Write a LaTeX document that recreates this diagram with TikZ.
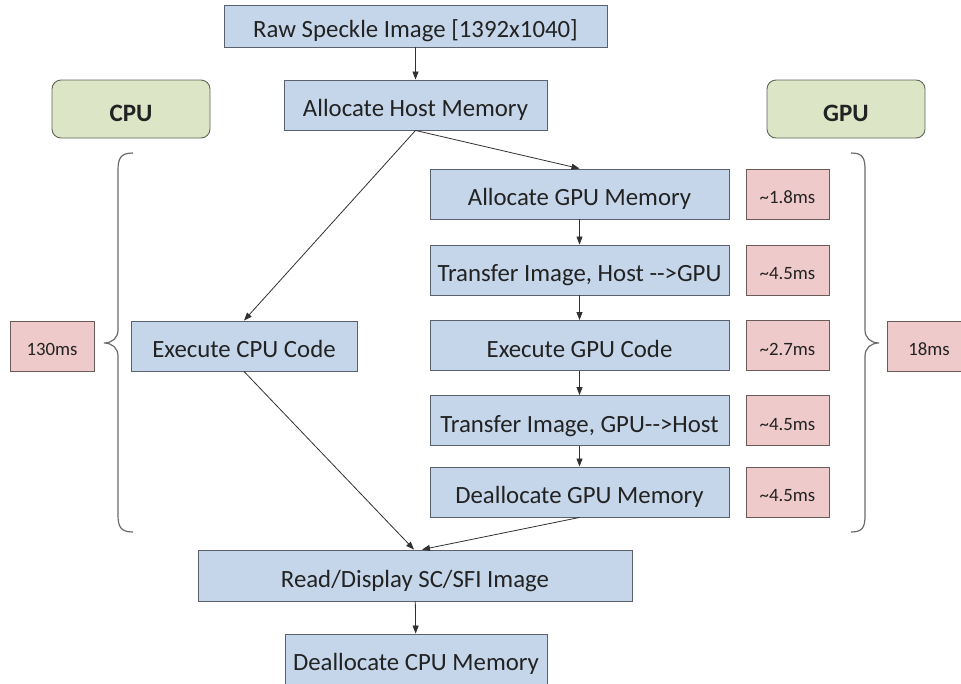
\documentclass[tikz,border=0pt]{standalone}
\usepackage{fontspec}
\setmainfont{Carlito}
\usetikzlibrary{arrows.meta}
\definecolor{procfill}{HTML}{C6D6EA}
\definecolor{procline}{HTML}{58616C}
\definecolor{timefill}{HTML}{EFCACA}
\definecolor{timeline}{HTML}{6B5A5A}
\definecolor{unitfill}{HTML}{DCE6C7}
\definecolor{unitline}{HTML}{5F6658}
\definecolor{wire}{HTML}{303030}
\definecolor{bracecol}{HTML}{6A6A6A}
\definecolor{ink}{HTML}{222222}

\begin{document}
\begin{tikzpicture}[x=1pt,y=-1pt,
  proc/.style={draw=procline, fill=procfill, line width=0.9pt, minimum height=50pt,
    inner sep=0pt, text height=23pt, text depth=0pt, text=ink,
    font=\fontsize{24.8}{28}\selectfont},
  timebox/.style={draw=timeline, fill=timefill, line width=0.9pt, minimum width=83pt,
    minimum height=50pt, inner sep=0pt, text height=19pt, text depth=0pt, text=ink,
    font=\fontsize{18.8}{22}\selectfont},
  unitbox/.style={draw=unitline, fill=unitfill, line width=0.9pt, rounded corners=9pt,
    minimum width=158pt, minimum height=58pt, inner sep=0pt, text height=24pt,
    text depth=0pt, text=ink, font=\fontsize{25}{29}\selectfont\bfseries},
  arr/.style={draw=wire, line width=0.8pt, -{Triangle[length=8pt,width=6pt]}},
  bracket/.style={draw=bracecol, line width=1.2pt}
]
\useasboundingbox (0,0) rectangle (961,683);

% main flow
\node[proc, minimum width=383pt, minimum height=42pt] (raw) at (415.5,26) {Raw Speckle Image [1392x1040]};
\node[proc, minimum width=263pt] (host) at (415.5,105) {Allocate Host Memory};

% processor labels
\node[unitbox] (cpu) at (131,109) {CPU};
\node[unitbox] (gpu) at (846,109) {GPU};

% GPU path
\node[proc, minimum width=299pt] (galloc) at (579.5,194) {Allocate GPU Memory};
\node[proc, minimum width=299pt] (gin)    at (579.5,270) {Transfer Image, Host -{}->GPU};
\node[proc, minimum width=299pt] (gexec)  at (579.5,345.5) {Execute GPU Code};
\node[proc, minimum width=299pt] (gout)   at (579.5,420.5) {Transfer Image, GPU-{}->Host};
\node[proc, minimum width=299pt] (gfree)  at (579.5,492) {Deallocate GPU Memory};

% GPU step timings
\node[timebox] (t1) at (787.5,194) {\textasciitilde 1.8ms};
\node[timebox] (t2) at (787.5,270) {\textasciitilde 4.5ms};
\node[timebox] (t3) at (787.5,345.5) {\textasciitilde 2.7ms};
\node[timebox] (t4) at (787.5,420.5) {\textasciitilde 4.5ms};
\node[timebox] (t5) at (787.5,492) {\textasciitilde 4.5ms};

% CPU path
\node[proc, minimum width=226pt] (cexec) at (244,346) {Execute CPU Code};

% totals
\node[timebox, minimum width=84pt] (ctot) at (52,346) {130ms};
\node[timebox, minimum width=84pt] (gtot) at (929,346) {18ms};

% common tail
\node[proc, minimum width=434pt, minimum height=51pt] (read) at (415,575.5) {Read/Display SC/SFI Image};
\node[proc, minimum width=262pt] (cfree) at (416,659) {Deallocate CPU Memory};

% connectors
\draw[arr] (raw) -- (host);
\draw[arr] (host.south) -- (galloc.north);
\draw[arr] (host.south) -- (cexec.north);
\draw[arr] (galloc) -- (gin);
\draw[arr] (gin) -- (gexec);
\draw[arr] (gexec) -- (gout);
\draw[arr] (gout) -- (gfree);
\draw[arr] (cexec.south) -- ([xshift=-1pt]read.north);
\draw[arr] (gfree.south) -- ([xshift=7pt]read.north);
\draw[arr] (read) -- (cfree);

% braces grouping each path
\draw[bracket] (133,153) .. controls (121,153) and (118,158) .. (118,170)
  -- (118,330) .. controls (118,338) and (112,343) .. (104,343)
  .. controls (112,343) and (118,348) .. (118,356)
  -- (118,515) .. controls (118,527) and (121,532) .. (133,532);
\draw[bracket] (851,153) .. controls (863,153) and (865,158) .. (865,170)
  -- (865,330) .. controls (865,338) and (871,343) .. (879,343)
  .. controls (871,343) and (865,348) .. (865,356)
  -- (865,515) .. controls (865,527) and (863,532) .. (851,532);
\end{tikzpicture}
\end{document}
